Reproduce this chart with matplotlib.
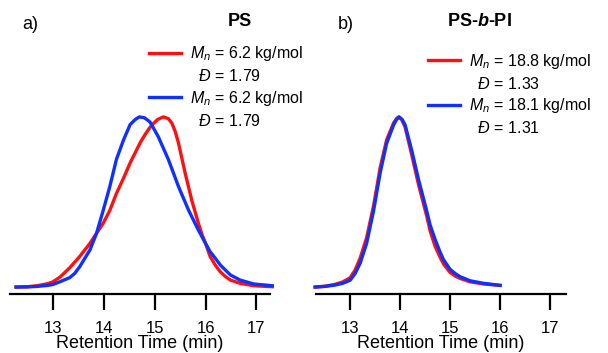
import numpy as np
import matplotlib
matplotlib.use("Agg")
import matplotlib.pyplot as plt
from matplotlib.lines import Line2D

plt.rcParams['font.family'] = ['Liberation Sans', 'DejaVu Sans']
plt.rcParams['mathtext.fontset'] = 'custom'
plt.rcParams['mathtext.rm'] = 'Liberation Sans'
plt.rcParams['mathtext.it'] = 'Liberation Sans:italic'
plt.rcParams['mathtext.bf'] = 'Liberation Sans:bold'
plt.rcParams['mathtext.bfit'] = 'Liberation Sans:bold:italic'

# panel a) PS, normalised GPC traces
ps_red_t = [12.28, 12.50, 12.70, 12.90, 13.00, 13.14, 13.33, 13.53, 13.73, 13.86, 13.99,
            14.12, 14.25, 14.39, 14.52, 14.62, 14.72, 14.81, 14.90, 14.98, 15.06, 15.17,
            15.27, 15.34, 15.41, 15.47, 15.60, 15.73, 15.86, 15.93, 16.00, 16.09, 16.19,
            16.29, 16.39, 16.49, 16.68, 16.95, 17.31]
ps_red_y = [0.000, 0.002, 0.008, 0.020, 0.030, 0.058, 0.112, 0.180, 0.257, 0.316, 0.375,
            0.450, 0.550, 0.640, 0.730, 0.790, 0.850, 0.895, 0.935, 0.962, 0.985, 1.000,
            0.990, 0.963, 0.910, 0.845, 0.670, 0.510, 0.375, 0.310, 0.257, 0.180, 0.130,
            0.090, 0.062, 0.041, 0.022, 0.008, 0.002]
ps_blue_t = [12.28, 12.50, 12.70, 12.90, 13.00, 13.14, 13.33, 13.43, 13.53, 13.73, 13.86,
             13.99, 14.12, 14.25, 14.39, 14.52, 14.62, 14.70, 14.80, 14.91, 15.07, 15.27,
             15.47, 15.67, 15.86, 16.00, 16.09, 16.19, 16.29, 16.39, 16.49, 16.68, 16.95,
             17.31]
ps_blue_y = [0.000, 0.001, 0.004, 0.010, 0.015, 0.031, 0.055, 0.080, 0.120, 0.218, 0.316,
             0.450, 0.590, 0.750, 0.865, 0.955, 0.985, 1.000, 0.995, 0.970, 0.885, 0.750,
             0.590, 0.450, 0.335, 0.257, 0.208, 0.170, 0.130, 0.100, 0.071, 0.041, 0.018,
             0.008]

# panel b) PS-b-PI
bcp_red_t = [12.30, 12.50, 12.70, 12.85, 13.00, 13.10, 13.20, 13.33, 13.47, 13.60, 13.73,
             13.87, 13.93, 13.97, 14.03, 14.10, 14.23, 14.37, 14.53, 14.60, 14.70, 14.80,
             14.87, 15.00, 15.10, 15.20, 15.40, 15.67, 16.00]
bcp_red_y = [0.000, 0.005, 0.016, 0.030, 0.055, 0.100, 0.170, 0.290, 0.480, 0.700, 0.865,
             0.965, 0.990, 1.000, 0.985, 0.940, 0.780, 0.600, 0.420, 0.330, 0.240, 0.175,
             0.135, 0.086, 0.065, 0.051, 0.031, 0.018, 0.010]
bcp_blue_t = [12.30, 12.50, 12.70, 12.85, 13.00, 13.10, 13.20, 13.33, 13.47, 13.60, 13.73,
              13.87, 13.93, 13.98, 14.04, 14.10, 14.23, 14.37, 14.53, 14.60, 14.70, 14.80,
              14.87, 15.00, 15.10, 15.20, 15.40, 15.67, 16.00]
bcp_blue_y = [0.000, 0.004, 0.012, 0.022, 0.040, 0.080, 0.140, 0.257, 0.450, 0.670, 0.845,
              0.953, 0.985, 1.000, 0.985, 0.953, 0.806, 0.630, 0.450, 0.365, 0.280, 0.205,
              0.160, 0.104, 0.080, 0.061, 0.037, 0.022, 0.010]

ps_labels = ["$M_n$ = 6.2 kg/mol", "  $\\mathit{Đ}$ = 1.79",
             "$M_n$ = 6.2 kg/mol", "  $\\mathit{Đ}$ = 1.79"]
bcp_labels = ["$M_n$ = 18.8 kg/mol", "  $\\mathit{Đ}$ = 1.33",
              "$M_n$ = 18.1 kg/mol", "  $\\mathit{Đ}$ = 1.31"]
xticks = [13, 14, 15, 16, 17]

red = '#ff1010'
blue = '#1030ff'
lw = 2.4

fig = plt.figure(figsize=(6.08, 3.53), dpi=100)
ax1 = fig.add_axes([0.0164, 0.167, 0.428, 0.55])
ax2 = fig.add_axes([0.520, 0.167, 0.411, 0.55])


def style(ax, xlim):
    ax.set_xlim(*xlim)
    ax.set_ylim(-0.041, 1.1)
    for s in ['left', 'right', 'top']:
        ax.spines[s].set_visible(False)
    ax.spines['bottom'].set_linewidth(1.6)
    ax.set_yticks([])
    ax.set_xticks(xticks)
    ax.tick_params(axis='x', direction='out', length=11.5, width=1.6, pad=8, labelsize=12)
    ax.set_xlabel('Retention Time (min)', fontsize=13, labelpad=-1)


ax1.plot(ps_red_t, ps_red_y, color=red, lw=lw, clip_on=False)
ax1.plot(ps_blue_t, ps_blue_y, color=blue, lw=lw, clip_on=False)
style(ax1, (12.16, 17.27))

ax2.plot(bcp_red_t, bcp_red_y, color=red, lw=lw, clip_on=False)
ax2.plot(bcp_blue_t, bcp_blue_y, color=blue, lw=lw, clip_on=False)
style(ax2, (12.32, 17.32))

blank = Line2D([], [], color='none')


def add_legend(ax, labels, anchor):
    handles = [Line2D([], [], color=red, lw=lw), blank,
               Line2D([], [], color=blue, lw=lw), blank]
    ax.legend(handles, labels, loc='upper left', bbox_to_anchor=anchor,
              bbox_transform=fig.transFigure, frameon=False, fontsize=11.5,
              handlelength=2.0, handletextpad=0.55, labelspacing=0.3,
              borderpad=0, borderaxespad=0)


add_legend(ax1, ps_labels, (0.245, 0.875))
add_legend(ax2, bcp_labels, (0.704, 0.853))

fig.text(0.036, 0.93, 'a)', fontsize=13, va='center', ha='left')
fig.text(0.395, 0.938, 'PS', fontsize=13, fontweight='bold', va='center', ha='center')
fig.text(0.555, 0.93, 'b)', fontsize=13, va='center', ha='left')
fig.text(0.788, 0.938, 'PS-$\\mathbfit{b}$-PI', fontsize=13, fontweight='bold',
         va='center', ha='center')

fig.savefig('out.png', dpi=100)
